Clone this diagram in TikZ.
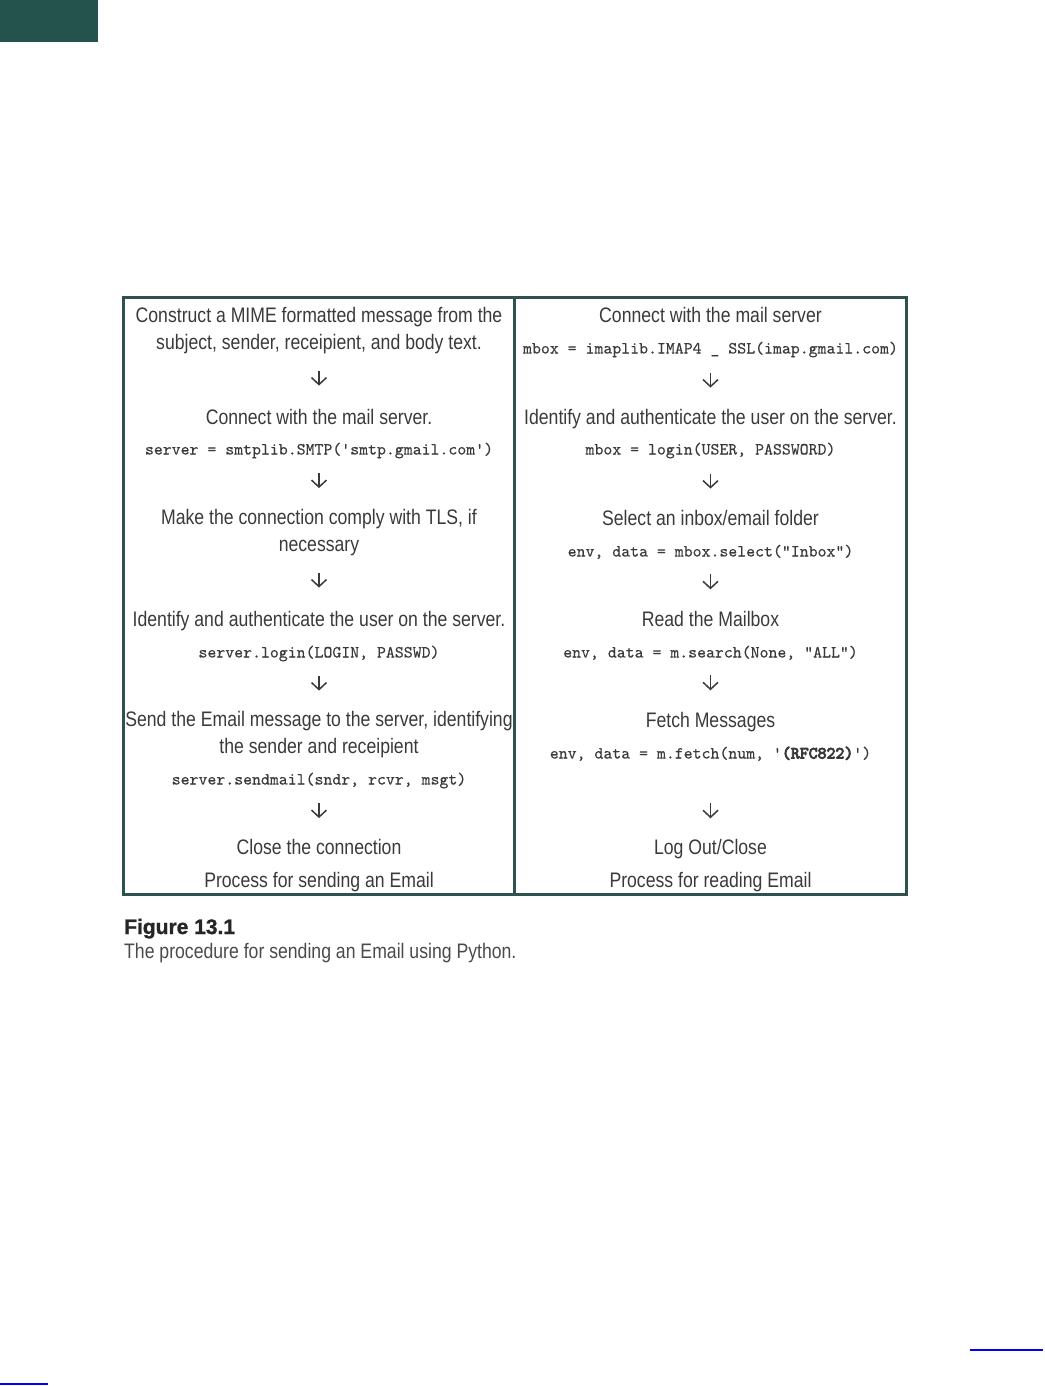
\documentclass[tikz,border=0pt]{standalone}
\usepackage{fontspec}
\setmainfont{Liberation Sans}[FakeStretch=0.84]
\setmonofont{lmmono10-regular.otf}[FakeBold=0.3]
\newfontfamily\codeboldfont{lmmono10-regular.otf}[FakeBold=5]
\newfontfamily\labelfont{Liberation Sans Bold}[FakeBold=1.2]
\usetikzlibrary{arrows.meta,calc}
\definecolor{ink}{HTML}{3A3A3A}
\definecolor{capink}{HTML}{4A4A4A}
\definecolor{framegreen}{HTML}{2E524D}
\definecolor{headgreen}{HTML}{24534E}
\tikzset{
  stepbox/.style = {font=\fontsize{21}{27}\selectfont, text=ink, align=center, inner sep=0pt, anchor=base},
  codebox/.style = {font=\ttfamily\fontsize{17}{20}\selectfont, text=ink, inner sep=0pt, anchor=base},
  flow/.style = {draw=ink, line width=1.5pt, -{Straight Barb[length=7pt,width=15pt]}},
  frame/.style = {draw=framegreen, line width=3pt},
  link/.style = {draw=blue, line width=2pt}
}
\begin{document}
\begin{tikzpicture}[x=1pt, y=-1pt]
  \useasboundingbox (0,0) rectangle (1044,1386);
  \fill[headgreen] (0,0) rectangle (98,42);
  % table frame
  \draw[frame] (123.5,297) rectangle (906,894);
  \draw[frame] (514.5,297) -- (514.5,894);
  % sending (base = last line)
  \node[stepbox] (s1) at (319,349) {Construct a MIME formatted message from the\\subject, sender, receipient, and body text.};
  \node[stepbox] (s2) at (319,424) {Connect with the mail server.};
  \node[codebox] (s2c) at (319,454.5) {server = smtplib.SMTP('smtp.gmail.com')};
  \node[stepbox] (s3) at (319,551) {Make the connection comply with TLS, if\\necessary};
  \node[stepbox] (s4) at (319,626) {Identify and authenticate the user on the server.};
  \node[codebox] (s4c) at (319,657.5) {server.login(LOGIN, PASSWD)};
  \node[stepbox] (s5) at (319,753) {Send the Email message to the server, identifying\\the sender and receipient};
  \node[codebox] (s5c) at (319,784.5) {server.sendmail(sndr, rcvr, msgt)};
  \node[stepbox] (s6) at (319,854) {Close the connection};
  \node[stepbox] (stitle) at (319,887) {Process for sending an Email};
  % reading
  \node[stepbox] (r1) at (710.5,322) {Connect with the mail server};
  \node[codebox] (r1c) at (710.5,353.5) {mbox = imaplib.IMAP4 \_ SSL(imap.gmail.com)};
  \node[stepbox] (r2) at (710.5,424) {Identify and authenticate the user on the server.};
  \node[codebox] (r2c) at (710.5,454.5) {mbox = login(USER, PASSWORD)};
  \node[stepbox] (r3) at (710.5,525) {Select an inbox/email folder};
  \node[codebox] (r3c) at (710.5,556.5) {env, data = mbox.select("Inbox")};
  \node[stepbox] (r4) at (710.5,626) {Read the Mailbox};
  \node[codebox] (r4c) at (710.5,657.5) {env, data = m.search(None, "ALL")};
  \node[stepbox] (r5) at (710.5,727) {Fetch Messages};
  \node[codebox] (r5c) at (710.5,758.5) {env, data = m.fetch(num, '{\codeboldfont (RFC822)}')};
  \node[stepbox] (r6) at (710.5,854) {Log Out/Close};
  \node[stepbox] (rtitle) at (710.5,887) {Process for reading Email};
  % arrows
  \foreach \a/\b/\p in {s1/s2/.5, s2c/s3/.5, s3/s4/.5, s4c/s5/.5, s5c/s6/.5,
                        r1c/r2/.5, r2c/r3/.5, r3c/r4/.5, r4c/r5/.5, r5c/r6/.68}
    \draw[flow] ($(\a.south)!\p!(\b.north)+(0,-10.5)$) -- ($(\a.south)!\p!(\b.north)+(0,4.5)$);
  % caption
  \node[anchor=base west, inner sep=0pt, font=\labelfont\fontsize{21}{24}\selectfont, text=black!85] (fig) at (124,934) {Figure 13.1};
  \node[anchor=base west, inner sep=0pt, font=\fontsize{21}{24}\selectfont, text=capink] (cap) at (124,958) {The procedure for sending an Email using Python.};
  % links
  \draw[link] (970,1350) -- (1043,1350);
  \draw[link] (0,1384) -- (48,1384);
\end{tikzpicture}
\end{document}
